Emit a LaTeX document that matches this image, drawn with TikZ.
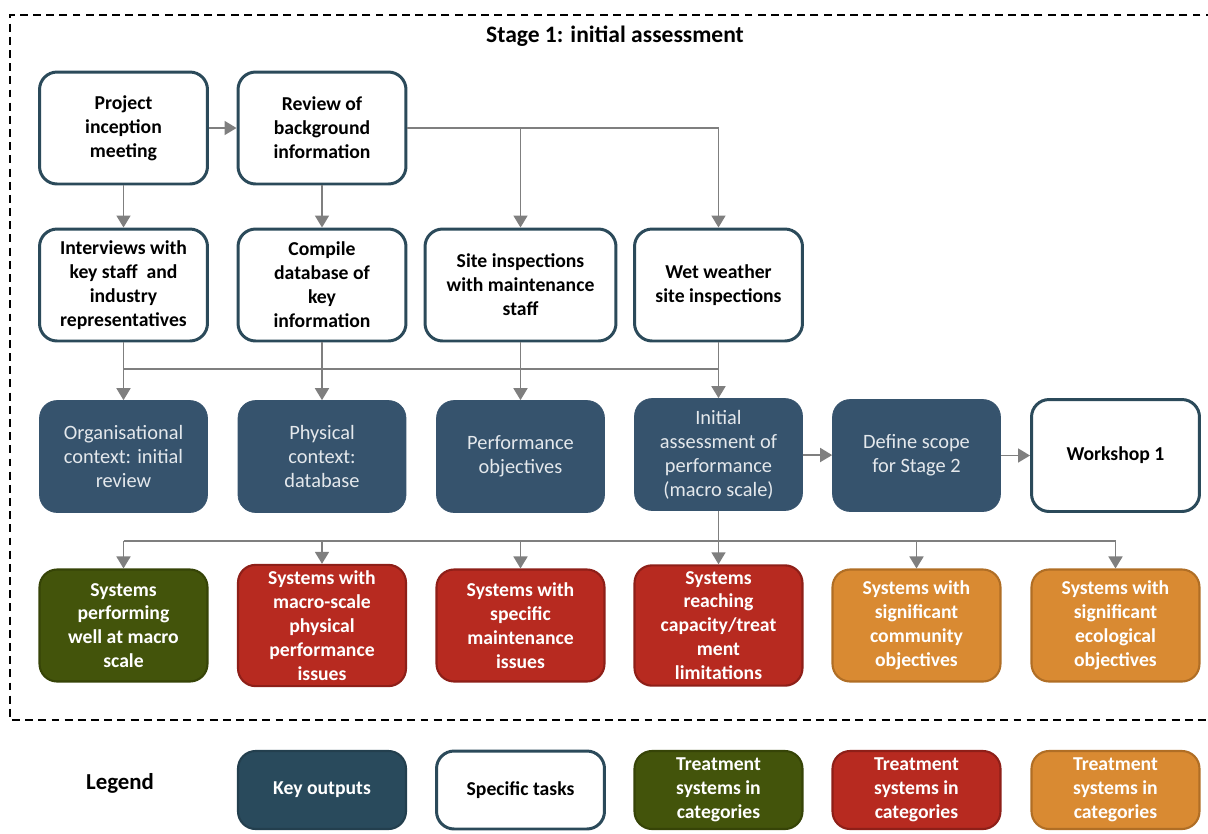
\documentclass[tikz,border=0pt]{standalone}
\usepackage{fontspec}
\setmainfont{Carlito}
\usetikzlibrary{arrows.meta, positioning}
\definecolor{outnavy}{HTML}{36536D}
\definecolor{outtext}{HTML}{E4E8EC}
\definecolor{keynavy}{HTML}{294A5C}
\definecolor{taskteal}{HTML}{2B4A5A}
\definecolor{goodgreen}{HTML}{43540B}
\definecolor{goodedge}{HTML}{364407}
\definecolor{issuered}{HTML}{B72A20}
\definecolor{issueedge}{HTML}{8E1F18}
\definecolor{specorange}{HTML}{D98A32}
\definecolor{specedge}{HTML}{B06E25}
\definecolor{linkgray}{HTML}{7F7F7F}

\begin{document}
\begin{tikzpicture}[
    x=0.02cm, y=-0.02cm,
    box/.style={rounded corners=10pt, minimum width=3.36cm, minimum height=2.24cm, align=center, font=\fontsize{11.2}{13.6}\selectfont\bfseries},
    task/.style={box, draw=taskteal, line width=1.7pt, fill=white},
    output/.style={box, fill=outnavy, draw=outnavy, text=outtext, font=\fontsize{11.6}{13.6}\selectfont},
    good/.style={box, fill=goodgreen, draw=goodedge, line width=1.2pt, text=white},
    issue/.style={box, fill=issuered, draw=issueedge, line width=1.2pt, text=white},
    special/.style={box, fill=specorange, draw=specedge, line width=1.2pt, text=white},
    arrow/.style={-{Triangle[length=2.4mm, width=2.8mm]}, line width=1pt, linkgray},
    link/.style={line width=1pt, linkgray},
]
    \useasboundingbox (0,0) rectangle (1208,833);

    % Stage frame
    \draw[dash pattern=on 4.5pt off 3pt, line width=0.8pt] (1240,15) -- (10,15) -- (10,720) -- (1240,720);
    \node[font=\fontsize{13.4}{15}\selectfont\bfseries] (title) at (615,36) {Stage 1: initial assessment};

    % Tasks
    \node[task] (inception) at (123.5,128) {Project\\inception\\meeting};
    \node[task] (review) at (322,128) {Review of\\background\\information};
    \node[task] (interviews) at (123.5,285) {Interviews with\\key staff~ and\\industry\\representatives};
    \node[task] (compile) at (322,285) {Compile\\database of\\key\\information};
    \node[task, minimum width=3.82cm] (siteinsp) at (520.5,285) {Site inspections\\with maintenance\\staff};
    \node[task] (wetinsp) at (718.5,285) {Wet weather\\site inspections};

    % Key outputs
    \node[output] (orgctx) at (123.5,456.5) {Organisational\\context: initial\\review};
    \node[output] (physctx) at (322,456.5) {Physical\\context:\\database};
    \node[output] (perfobj) at (520.5,456.5) {Performance\\objectives};
    \node[output] (initial) at (718.5,454.5) {Initial\\assessment of\\performance\\(macro scale)};
    \node[output] (scope) at (916.5,455.5) {Define scope\\for Stage 2};
    \node[task] (workshop) at (1115.5,455.5) {Workshop 1};

    % Treatment system categories
    \node[good] (wellmacro) at (123.5,625.5) {Systems\\performing\\well at macro\\scale};
    \node[issue] (physissue) at (322,625.5) {Systems with\\macro-scale\\physical\\performance\\issues};
    \node[issue] (maintissue) at (520.5,625.5) {Systems with\\specific\\maintenance\\issues};
    \node[issue] (capacity) at (718.5,625.5) {Systems\\reaching\\capacity/treat\\ment\\limitations};
    \node[special] (community) at (916.5,625.5) {Systems with\\significant\\community\\objectives};
    \node[special] (ecology) at (1115.5,625.5) {Systems with\\significant\\ecological\\objectives};

    % Legend
    \node[font=\fontsize{13}{15}\selectfont\bfseries] (legend) at (120,783) {Legend};
    \node[box, fill=keynavy, draw=keynavy!85!black, line width=1.2pt, text=white, minimum height=1.56cm] (legkey) at (322,790) {Key outputs};
    \node[task, minimum height=1.56cm] (legtask) at (520.5,790) {Specific tasks};
    \node[good, minimum height=1.56cm] (leggood) at (718.5,790) {Treatment\\systems in\\categories};
    \node[issue, minimum height=1.56cm] (legissue) at (916.5,790) {Treatment\\systems in\\categories};
    \node[special, minimum height=1.56cm] (legspecial) at (1115.5,790) {Treatment\\systems in\\categories};

    % Bus lines
    \coordinate (busA) at (0,369);
    \coordinate (busB) at (0,541);

    % Arrows
    \draw[arrow] (inception) -- (review);
    \draw[arrow] (inception) -- (interviews);
    \draw[arrow] (review) -- (compile);
    \draw[link] (review.east) -- (review.east -| wetinsp.north);
    \draw[arrow] (review.east -| siteinsp.north) -- (siteinsp.north);
    \draw[arrow] (review.east -| wetinsp.north) -- (wetinsp.north);
    \draw[link] (interviews.south |- busA) -- (wetinsp.south |- busA);
    \draw[arrow] (interviews) -- (orgctx);
    \draw[arrow] (compile) -- (physctx);
    \draw[arrow] (siteinsp) -- (perfobj);
    \draw[arrow] (wetinsp) -- (initial);
    \draw[arrow] (initial) -- (scope);
    \draw[arrow] (scope) -- (workshop);
    \draw[link] (initial.south) -- (initial.south |- busB);
    \draw[link] (wellmacro.north |- busB) -- (ecology.north |- busB);
    \draw[arrow] (wellmacro.north |- busB) -- (wellmacro.north);
    \draw[arrow] (physissue.north |- busB) -- (physissue.north);
    \draw[arrow] (maintissue.north |- busB) -- (maintissue.north);
    \draw[arrow] (capacity.north |- busB) -- (capacity.north);
    \draw[arrow] (community.north |- busB) -- (community.north);
    \draw[arrow] (ecology.north |- busB) -- (ecology.north);

\end{tikzpicture}
\end{document}
